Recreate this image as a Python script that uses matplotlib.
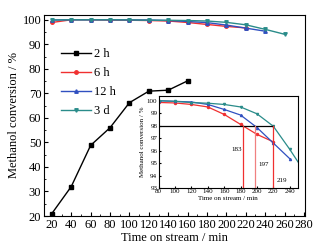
import matplotlib
matplotlib.use('Agg')
from matplotlib import pyplot as plt
from matplotlib.ticker import MultipleLocator

plt.rcParams['font.family'] = ['Liberation Serif', 'DejaVu Serif']
plt.rcParams['mathtext.fontset'] = 'stix'

# Time on stream (min) and methanol conversion (%)
t_2h = [20, 40, 60, 80, 100, 120, 140, 160]
conv_2h = [21, 32, 48.8, 56, 66.2, 70.9, 71.3, 75.1]

t_6h = [20, 40, 60, 80, 100, 120, 140, 160, 180, 200, 220]
conv_6h = [98.9, 100, 100, 99.86, 99.82, 99.7, 99.5, 98.9, 98.1, 97.3, 96.7]

t_12h = [20, 40, 60, 80, 100, 120, 140, 160, 180, 200, 220, 240]
conv_12h = [99.9, 100, 100, 100, 99.95, 99.9, 99.7, 99.3, 98.85, 97.85, 96.6, 95.35]

t_3d = [20, 40, 60, 80, 100, 120, 140, 160, 180, 200, 220, 240, 260]
conv_3d = [99.9, 100, 100, 100, 99.95, 99.85, 99.8, 99.7, 99.5, 98.95, 97.95, 96.1, 94.1]

# Times at which conversion drops to 98 %
cross_t = [183, 197, 219]
cross_lbl = ['183', '197', '219']

series = [
    (t_2h, conv_2h, '2 h', 'black', 's'),
    (t_6h, conv_6h, '6 h', '#f03030', 'o'),
    (t_12h, conv_12h, '12 h', '#3050c0', '^'),
    (t_3d, conv_3d, '3 d', '#2a8c8a', 'v'),
]

fig = plt.figure(figsize=(3.34, 2.48), dpi=100)
ax = fig.add_axes([0.132, 0.129, 0.781, 0.811])
for x, y, lbl, c, m in series:
    ax.plot(x, y, color=c, marker=m, markersize=2.5, linewidth=1.0, label=lbl)
ax.set_xlim(12, 281)
ax.set_ylim(20, 102)
ax.xaxis.set_major_locator(MultipleLocator(20))
ax.xaxis.set_minor_locator(MultipleLocator(10))
ax.yaxis.set_major_locator(MultipleLocator(10))
ax.yaxis.set_minor_locator(MultipleLocator(5))
ax.tick_params(which='both', direction='in', labelsize=9, pad=2)
ax.tick_params(which='major', length=3)
ax.tick_params(which='minor', length=1.5)
ax.set_xlabel('Time on stream / min', fontsize=9, labelpad=1)
ax.set_ylabel('Methanol conversion / %', fontsize=9, labelpad=2)
ax.legend(loc='upper left', bbox_to_anchor=(0.02, 0.89), frameon=False,
          fontsize=9, handlelength=2.4, labelspacing=0.55, handletextpad=0.3)

ins = fig.add_axes([0.475, 0.242, 0.417, 0.372])
for x, y, lbl, c, m in series[1:]:
    ins.plot(x, y, color=c, marker=m, markersize=1.5, linewidth=0.9)
ins.plot([80, cross_t[-1]], [98, 98], color='black', linewidth=0.9)
for tc, lab, c in zip(cross_t, cross_lbl, ['#f03030', '#f08080', '#f03030']):
    ins.plot([tc, tc], [93, 98], color=c, linewidth=0.9)
ins.text(175, 96.1, cross_lbl[0], fontsize=5, ha='center', va='center')
ins.text(208, 94.9, cross_lbl[1], fontsize=5, ha='center', va='center')
ins.text(231, 93.6, cross_lbl[2], fontsize=5, ha='center', va='center')
ins.set_xlim(80, 250)
ins.set_ylim(93, 100.4)
ins.xaxis.set_major_locator(MultipleLocator(20))
ins.yaxis.set_major_locator(MultipleLocator(1))
ins.tick_params(direction='in', labelsize=5, length=1.5, pad=1)
ins.set_xlabel('Time on stream / min', fontsize=5, labelpad=1)
ins.set_ylabel('Methanol conversion / %', fontsize=5, labelpad=1)

fig.savefig('out.png', dpi=100)
